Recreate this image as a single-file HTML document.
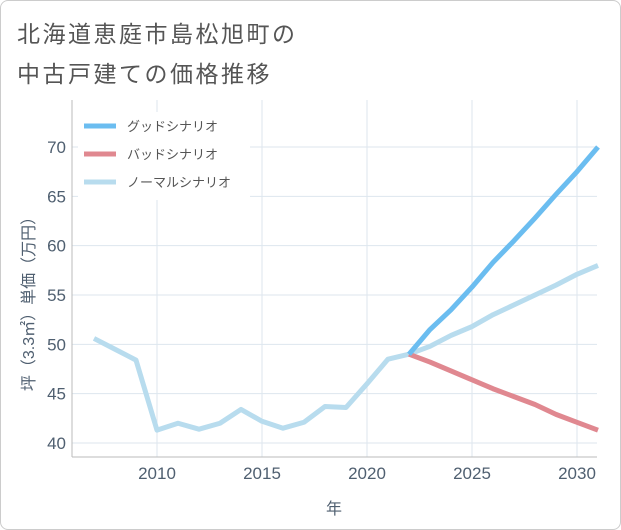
<!DOCTYPE html>
<html><head><meta charset="utf-8"><style>
body{margin:0;background:#fff;font-family:"Liberation Sans","Noto Sans CJK JP",sans-serif;}
#wrap{position:relative;width:619px;height:528px;border:1px solid #ccc;border-radius:8px;background:#fff;overflow:hidden}
.title{position:absolute;left:16px;font-size:23px;color:#555;letter-spacing:2.5px}
</style></head><body>
<div id="wrap">
<div class="title" style="top:14px">北海道恵庭市島松旭町の</div>
<div class="title" style="top:54px">中古戸建ての価格推移</div>
<svg id="chart" width="621" height="530" style="position:absolute;left:-1px;top:-1px"></svg>
</div>
<script>
const years=[2007,2008,2009,2010,2011,2012,2013,2014,2015,2016,2017,2018,2019,2020,2021,2022,2023,2024,2025,2026,2027,2028,2029,2030,2031];
const normalVals=[50.6,49.5,48.4,41.3,42,41.4,42,43.4,42.2,41.5,42.1,43.7,43.6,46,48.5,49,49.8,50.9,51.8,53,54,55,56,57.1,58];
const futureYears=[2022,2023,2024,2025,2026,2027,2028,2029,2030,2031];
const goodVals=[49,51.5,53.5,55.8,58.3,60.5,62.8,65.2,67.5,70];
const badVals=[49,48.2,47.3,46.4,45.5,44.7,43.9,42.9,42.1,41.3];
const xTicks=[2010,2015,2020,2025,2030];
const yTicks=[40,45,50,55,60,65,70];
const L=72,R=597,T=100,B=457;
const x=v=>157+(v-2010)*21;
const y=v=>443-(v-40)*(296/30);
const svg=document.getElementById('chart');const NS='http://www.w3.org/2000/svg';
function mk(t,a,p){const e=document.createElementNS(NS,t);for(const k in a)e.setAttribute(k,a[k]);(p||svg).appendChild(e);return e;}
const grid=mk('g',{});


xTicks.forEach(v=>{mk('line',{x1:x(v),x2:x(v),y1:T,y2:B,stroke:'#dde6ee'},grid);
const t=mk('text',{x:x(v),y:479,'text-anchor':'middle','font-size':17,fill:'#4f5f70'});t.textContent=v;

});
yTicks.forEach(v=>{mk('line',{x1:L,x2:R,y1:y(v),y2:y(v),stroke:'#dde6ee'},grid);
const t=mk('text',{x:66,y:y(v)+6,'text-anchor':'end','font-size':17,fill:'#4f5f70'});t.textContent=v;

});
mk('line',{x1:L,x2:L,y1:T,y2:B,stroke:'#bbb'});mk('line',{x1:L,x2:R,y1:B,y2:B,stroke:'#bbb'});
const xt=mk('text',{x:334,y:514,'text-anchor':'middle','font-size':16,fill:'#4f5f70'});xt.textContent='年';


const yt=mk('text',{x:0,y:0,'text-anchor':'middle','font-size':16,fill:'#4f5f70',transform:'translate(34,300) rotate(-90)'});yt.textContent='坪（3.3㎡）単価（万円）';


function line(xs,vs,c,n){const p=mk('polyline',{points:xs.map((v,i)=>x(v)+','+y(vs[i])).join(' '),fill:'none',stroke:c,'stroke-width':5,'stroke-linejoin':'round'});

}
line(years,normalVals,'#b8dcee','normal-scenario-line');
line(futureYears,badVals,'#e08890','bad-scenario-line');
line(futureYears,goodVals,'#6bbdf0','good-scenario-line');
mk('rect',{x:78,y:112,width:172,height:88,fill:'#fff'});
[['グッドシナリオ','#6bbdf0'],['バッドシナリオ','#e08890'],['ノーマルシナリオ','#b8dcee']].forEach((d,i)=>{
const g=mk('g',{});

mk('line',{x1:84,x2:116,y1:126+i*28,y2:126+i*28,stroke:d[1],'stroke-width':5},g);
const t=mk('text',{x:127,y:131+i*28,'font-size':13,fill:'#555'},g);t.textContent=d[0];});
</script>
</body></html>
